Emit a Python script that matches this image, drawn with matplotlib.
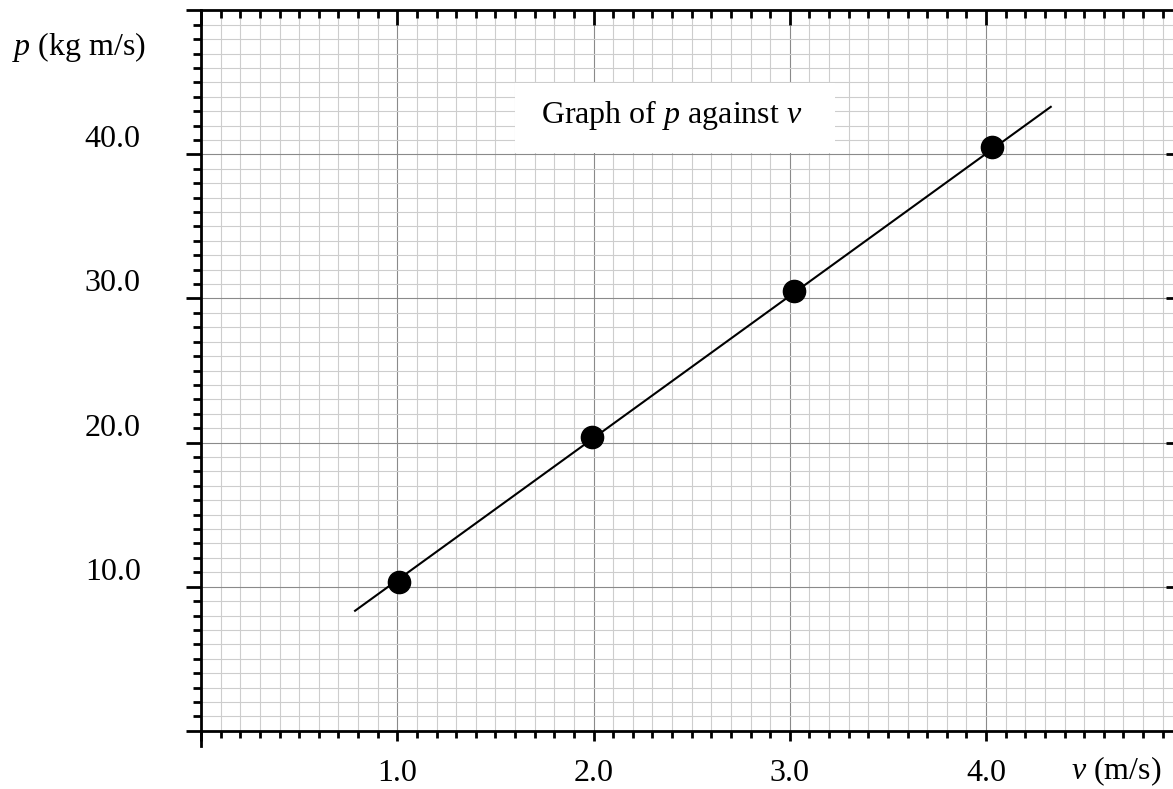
import numpy as np
import matplotlib
matplotlib.use('Agg')
import matplotlib.pyplot as plt
from matplotlib.ticker import MultipleLocator
from matplotlib.patches import Rectangle

# measured points
v = [1.01, 1.99, 3.02, 4.03]
p = [10.3, 20.4, 30.5, 40.5]

# best fit line, drawn between its two end points
fit_v = [0.785, 4.33]
fit_p = [8.33, 43.3]

xticks = [0, 1, 2, 3, 4]
xticklabels = ['', '1.0', '2.0', '3.0', '4.0']
yticks = [0, 10, 20, 30, 40, 50]
yticklabels = ['', '10.0', '20.0', '30.0', '40.0', '']

plt.rcParams['font.family'] = ['Liberation Serif', 'DejaVu Serif']
plt.rcParams['mathtext.fontset'] = 'custom'
plt.rcParams['mathtext.rm'] = 'Liberation Serif'
plt.rcParams['mathtext.it'] = 'Liberation Serif:italic'

W, H = 1173, 789
fig = plt.figure(figsize=(W / 100, H / 100), dpi=100, facecolor='white')

x0, xpx = 201, 196.25     # pixel of v=0, pixels per unit
y0, ypx = 730.8, 14.41    # pixel of p=0, pixels per unit
rect = [x0 / W, (H - y0) / H, (W - x0) / W, 50 * ypx / H]
xlim = (0, (W - x0) / xpx)
ylim = (0, 50)

ax = fig.add_axes(rect)
ax.set_xlim(*xlim)
ax.set_ylim(*ylim)

# graph paper
ax.xaxis.set_minor_locator(MultipleLocator(0.1))
ax.yaxis.set_minor_locator(MultipleLocator(1))
ax.set_xticks(xticks, labels=xticklabels)
ax.set_yticks(yticks, labels=yticklabels)
ax.grid(which='minor', color='#cdcdcd', linewidth=0.8)
ax.grid(which='major', color='#8a8a8a', linewidth=0.8)
ax.set_axisbelow(True)

for s in ['top', 'right']:
  ax.spines[s].set_visible(False)
ax.spines['left'].set_linewidth(2)
ax.spines['bottom'].set_linewidth(2)
ax.spines['left'].set_bounds(-15 / ypx, 50)

ax.tick_params(axis='x', which='major', direction='out', length=7.2, width=2,
               labelsize=23, pad=13)
ax.tick_params(axis='x', which='minor', direction='out', length=5, width=2)
ax.tick_params(axis='y', which='major', direction='out', length=10.8, width=2,
               labelsize=23, pad=32.5)
ax.tick_params(axis='y', which='minor', direction='out', length=5.8, width=2)
for lab in ax.get_yticklabels():
  lab.set_verticalalignment('bottom')

# second frame for the inward ticks on top and right
ax2 = fig.add_axes(rect)
ax2.patch.set_visible(False)
ax2.set_xlim(*xlim)
ax2.set_ylim(*ylim)
for s in ['left', 'bottom', 'right']:
  ax2.spines[s].set_visible(False)
ax2.spines['top'].set_linewidth(2)
ax2.xaxis.set_major_locator(MultipleLocator(1))
ax2.xaxis.set_minor_locator(MultipleLocator(0.1))
ax2.set_yticks(yticks[1:-1])
ax2.tick_params(axis='x', which='both', direction='in', width=2,
                bottom=False, top=True, labelbottom=False)
ax2.tick_params(axis='x', which='major', length=10.5)
ax2.tick_params(axis='x', which='minor', length=5.8)
ax2.tick_params(axis='y', which='major', direction='in', width=2, length=5,
                left=False, right=True, labelleft=False)

# fit line and points
ax.plot(fit_v, fit_p, color='black', linewidth=1.5, zorder=3)
ax.plot(v, p, 'o', color='black', markersize=16, zorder=4)

# title in a white box
ax.add_patch(Rectangle((1.60, 40.1), 1.63, 4.85, facecolor='white',
                       edgecolor='none', zorder=2))
ax.text(2.397, 42.16, 'Graph of $p$ against $v$', ha='center', va='baseline',
        fontsize=23, zorder=3)

fig.text(12 / W, (H - 55) / H, '$p$ (kg m/s)', fontsize=23, ha='left', va='baseline')
fig.text(1071 / W, (H - 779) / H, '$v$ (m/s)', fontsize=23, ha='left', va='baseline')

fig.savefig('out.png', dpi=100, facecolor='white')
